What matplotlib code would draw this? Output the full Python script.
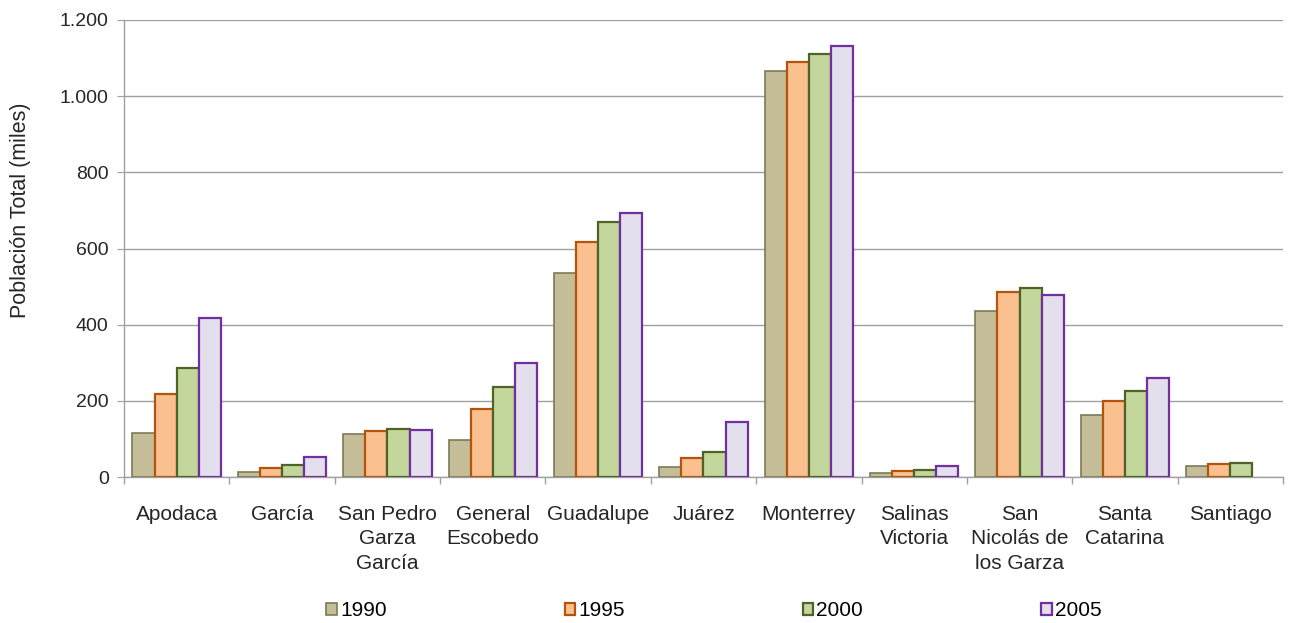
import matplotlib
matplotlib.use("Agg")
import matplotlib.pyplot as plt
import numpy as np
from matplotlib.ticker import FuncFormatter, FixedLocator
from matplotlib.patches import Patch

plt.rcParams['font.family'] = ['Liberation Sans', 'DejaVu Sans']

municipios = ["Apodaca", "García", "San Pedro\nGarza\nGarcía", "General\nEscobedo",
              "Guadalupe", "Juárez", "Monterrey", "Salinas\nVictoria",
              "San\nNicolás de\nlos Garza", "Santa\nCatarina", "Santiago"]
anios = ["1990", "1995", "2000", "2005"]
pob_1990 = [115, 13, 112, 97, 535, 27, 1066, 10, 437, 164, 30]
pob_1995 = [218, 24, 120, 178, 618, 49, 1089, 16, 487, 200, 33]
pob_2000 = [286, 31, 126, 236, 669, 66, 1110, 19, 497, 227, 36]
pob_2005 = [417, 53, 123, 299, 692, 144, 1133, 29, 477, 260, 0]
series = [pob_1990, pob_1995, pob_2000, pob_2005]

fills = ["#C4BD97", "#FAC090", "#C3D69B", "#E4DFEC"]
edges = ["#7A7A58", "#B4540C", "#4F6228", "#7030A0"]
lws = [1.2, 1.6, 1.6, 1.6]
txt = '#262626'

fig = plt.figure(figsize=(12.94, 6.23), dpi=100)
ax = fig.add_axes([124/1294, 1-477/623, (1283-124)/1294, (477-20)/623])

x = np.arange(len(municipios))
w = 0.21
for i, (vals, fc, ec, lw) in enumerate(zip(series, fills, edges, lws)):
    v = np.array(vals, dtype=float)
    xs = x + (i - 1.5) * w
    mask = v > 0
    ax.bar(xs[mask], v[mask], width=w, color=fc, edgecolor=ec, linewidth=lw, zorder=3)

ax.set_xlim(-0.5, len(municipios) - 0.5)
ax.set_ylim(0, 1200)
ax.set_yticks(np.arange(0, 1201, 200))
ax.yaxis.set_major_formatter(FuncFormatter(lambda v, p: f"{int(v):,}".replace(",", ".")))
ax.grid(axis='y', color='#A0A0A0', linewidth=1.0, zorder=0)

ax.set_xticks(x)
ax.set_xticklabels(municipios, fontsize=15, color=txt, linespacing=1.37)
ax.tick_params(axis='x', length=0, pad=20)
ax.xaxis.set_minor_locator(FixedLocator(np.arange(-0.5, len(municipios), 1.0)))
ax.tick_params(axis='x', which='minor', length=5, color='#A0A0A0', width=1)
ax.tick_params(axis='y', length=5, color='#A0A0A0', labelsize=14, labelcolor=txt, pad=6)

for s in ['top', 'right']:
    ax.spines[s].set_visible(False)
for s in ['left', 'bottom']:
    ax.spines[s].set_color('#A0A0A0')
    ax.spines[s].set_linewidth(1.0)

ax.set_ylabel("Población Total (miles)", fontsize=15.5, color=txt)
ax.yaxis.set_label_coords((31 - 124) / 1159, (477 - 210) / 457)

handles = [Patch(facecolor=fc, edgecolor=ec, linewidth=lw) for fc, ec, lw in zip(fills, edges, lws)]
fig.legend(handles, anios, loc='center', ncol=4, bbox_to_anchor=(714/1294, 1-611/623),
           frameon=False, fontsize=15, handlelength=0.5, handleheight=0.55,
           handletextpad=0.15, columnspacing=8.55)

fig.savefig("out.png", dpi=100)
